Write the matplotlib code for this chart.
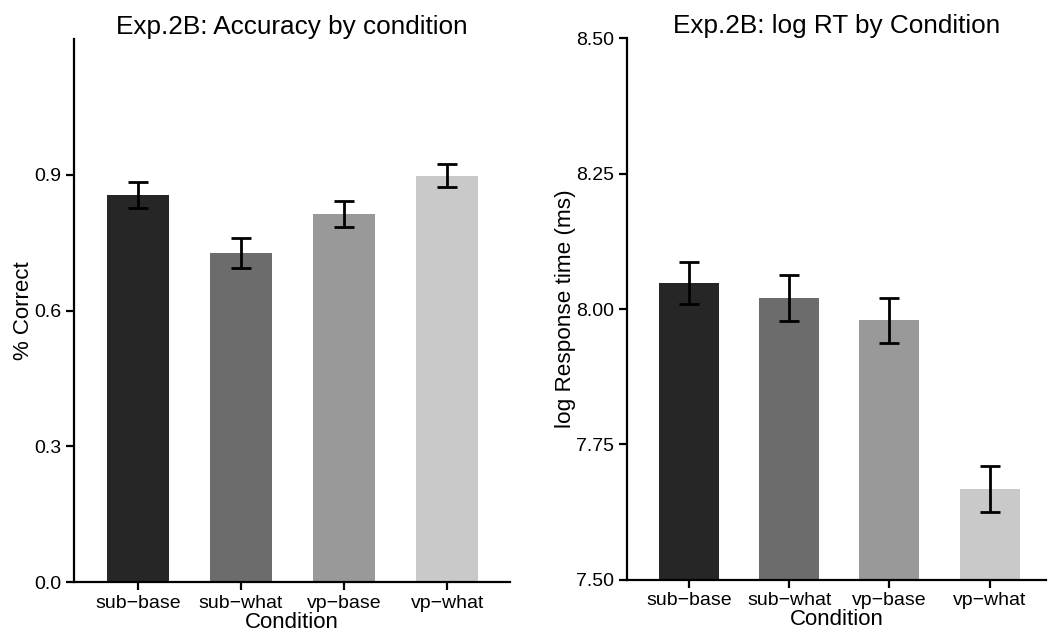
import matplotlib.pyplot as plt

plt.rcParams['font.family'] = ['Liberation Sans', 'DejaVu Sans']

conditions = ["sub\u2212base", "sub\u2212what", "vp\u2212base", "vp\u2212what"]
acc_mean = [0.855, 0.727, 0.814, 0.898]
acc_err = [0.028, 0.034, 0.029, 0.026]
rt_mean = [8.048, 8.020, 7.979, 7.668]
rt_err = [0.039, 0.043, 0.042, 0.042]
bar_colors = ["#262626", "#6c6c6c", "#999999", "#c9c9c9"]

fig = plt.figure(figsize=(10.52, 6.37), dpi=100)
ax1 = fig.add_axes([0.0703, 0.0863, 0.4145, 0.8525])
ax2 = fig.add_axes([0.596, 0.0895, 0.398, 0.8508])

x = range(len(conditions))


def style(ax):
    ax.spines['top'].set_visible(False)
    ax.spines['right'].set_visible(False)
    for s in ['left', 'bottom']:
        ax.spines[s].set_linewidth(1.6)
    ax.tick_params(axis='both', width=1.6, length=6, labelsize=14, pad=3)
    ax.set_xticks(list(x))
    ax.set_xticklabels(conditions)
    ax.set_xlabel("Condition", fontsize=16, labelpad=0)


# accuracy
ax1.bar(x, acc_mean, width=0.6, color=bar_colors)
ax1.errorbar(x, acc_mean, yerr=acc_err, fmt='none', ecolor='black',
             elinewidth=2, capsize=7, capthick=2)
ax1.set_ylim(0, 1.2)
ax1.set_xlim(-0.62, 3.61)
ax1.set_yticks([0.0, 0.3, 0.6, 0.9])
ax1.set_yticklabels(["0.0", "0.3", "0.6", "0.9"])
ax1.set_ylabel("% Correct", fontsize=16, labelpad=0)
ax1.set_title("Exp.2B: Accuracy by condition", fontsize=18.8, pad=2)
style(ax1)

# log RT
ax2.bar(x, rt_mean, width=0.6, color=bar_colors)
ax2.errorbar(x, rt_mean, yerr=rt_err, fmt='none', ecolor='black',
             elinewidth=2, capsize=7, capthick=2)
ax2.set_ylim(7.5, 8.5)
ax2.set_xlim(-0.62, 3.56)
ax2.set_yticks([7.5, 7.75, 8.0, 8.25, 8.5])
ax2.set_yticklabels(["7.50", "7.75", "8.00", "8.25", "8.50"])
ax2.set_ylabel("log Response time (ms)", fontsize=16.2, labelpad=0)
ax2.set_title("Exp.2B: log RT by Condition", fontsize=18.8, pad=2)
style(ax2)

fig.savefig("out.png", dpi=100)
